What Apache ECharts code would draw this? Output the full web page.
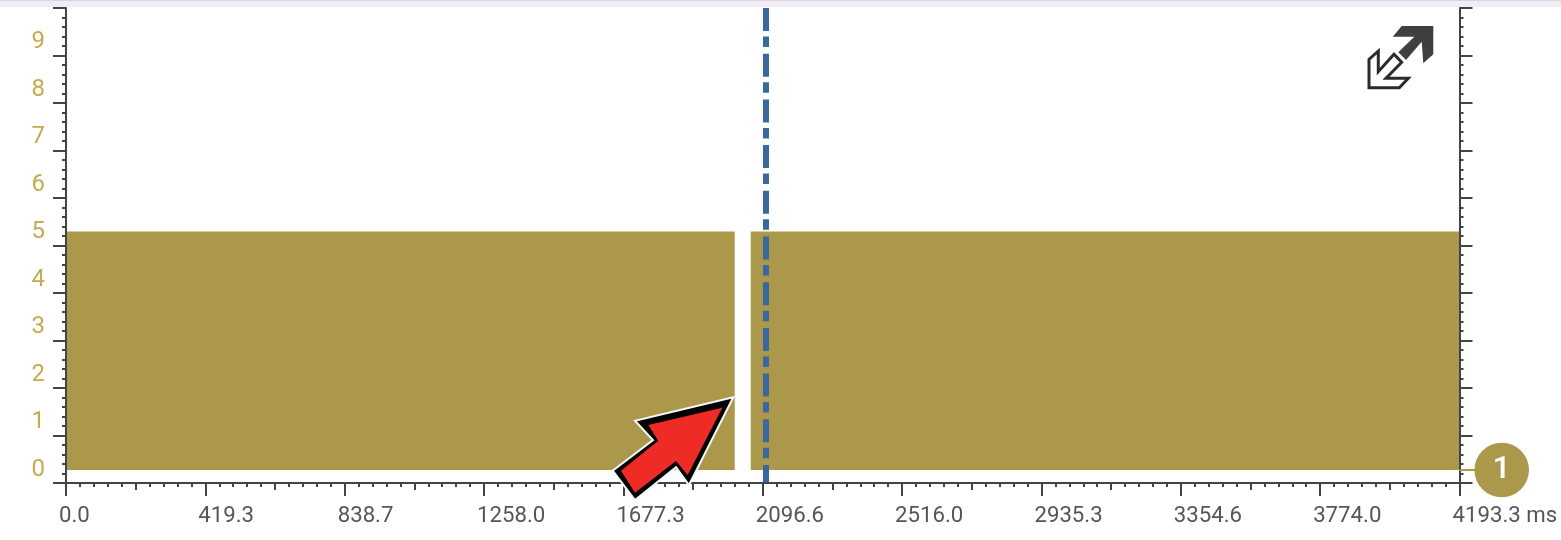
<!DOCTYPE html>
<html>
<head>
<meta charset="utf-8">
<style>html,body{margin:0;padding:0;background:#fff}#c{width:1561px;height:540px}</style>
<script src="https://cdn.jsdelivr.net/npm/echarts@6/dist/echarts.min.js"></script>
</head>
<body>
<div id="c"></div>
<script>
var xTickLabels = ['0.0','419.3','838.7','1258.0','1677.3','2096.6','2516.0','2935.3','3354.6','3774.0','4193.3 ms'];
var yTickValues = [0, 1, 2, 3, 4, 5, 6, 7, 8, 9];
var segmentStart = [0, 2060.6];
var segmentEnd = [2012.4, 4193.3];
var segmentLow = [0, 0];
var segmentHigh = [5.02, 5.02];
var cursorTime = [2106.4, 2106.4];
var cursorLevel = [9.726, -0.274];
var xMax = 4193.3, xStep = 419.33;
var yMin = -0.274, yMax = 9.726;
var gold = '#ac984b', labelGold = '#c4aa52', axisDark = '#444444', textGrey = '#565656';

var chart = echarts.init(document.getElementById('c'), null, {renderer: 'canvas'});
var bandData = segmentStart.map(function (s, i) { return [s, segmentEnd[i], segmentLow[i], segmentHigh[i]]; });
var cursorData = cursorTime.map(function (t, i) { return [t, cursorLevel[i]]; });

var tickAxis = function (pos) {
  return {
    type: 'value', position: pos, min: 0, max: 10, interval: 1, z: 5,
    axisLine: {show: true, onZero: false, lineStyle: {color: axisDark, width: 2}},
    axisTick: {show: true, length: 13, lineStyle: {color: axisDark, width: 2}},
    minorTick: {show: true, splitNumber: 5, length: 4, lineStyle: {color: axisDark, width: 2}},
    axisLabel: {show: false}, splitLine: {show: false}, minorSplitLine: {show: false}
  };
};

chart.setOption({
  animation: false,
  backgroundColor: '#ffffff',
  grid: {left: 66, right: 101.5, top: 8, bottom: 57, containLabel: false},
  xAxis: [{
    type: 'value', min: 0, max: xMax, interval: xStep, position: 'bottom', z: 5,
    axisLine: {show: true, onZero: false, lineStyle: {color: axisDark, width: 2}},
    axisTick: {show: true, length: 13, lineStyle: {color: axisDark, width: 2}},
    minorTick: {show: true, splitNumber: 10, length: 4, lineStyle: {color: axisDark, width: 2}},
    splitLine: {show: false}, minorSplitLine: {show: false},
    axisLabel: {
      show: true, margin: 22, align: 'left', color: textGrey, fontFamily: 'Roboto', fontSize: 22.2,
      padding: [0, 0, 0, -7], hideOverlap: false, showMinLabel: true, showMaxLabel: true,
      formatter: function (v) { return xTickLabels[Math.round(v / xStep)] || ''; }
    }
  }, {
    type: 'value', min: 0, max: xMax, interval: xStep / 2, position: 'bottom', z: 5,
    axisLine: {show: false, onZero: false},
    axisTick: {show: true, length: 7, lineStyle: {color: axisDark, width: 2}},
    axisLabel: {show: false}, splitLine: {show: false}
  }],
  yAxis: [{
    type: 'value', min: yMin, max: yMax, position: 'left',
    axisLine: {show: false, onZero: false}, axisTick: {show: false}, splitLine: {show: false},
    axisLabel: {
      show: true, margin: 21, align: 'right', color: labelGold, fontFamily: 'Roboto', fontSize: 24,
      padding: [0, 0, 6, 0], customValues: yTickValues,
      formatter: function (v) { return String(Math.round(v)); }
    }
  }, tickAxis('left'), tickAxis('right')],
  series: [{
    type: 'custom', xAxisIndex: 0, yAxisIndex: 0, data: bandData, clip: true, z: 2,
    encode: {x: [0, 1], y: [2, 3]},
    renderItem: function (params, api) {
      var a = api.coord([api.value(0), api.value(3)]);
      var b = api.coord([api.value(1), api.value(2)]);
      return {type: 'rect', shape: {x: a[0], y: a[1], width: b[0] - a[0], height: b[1] - a[1]},
              style: {fill: gold}};
    }
  }, {
    type: 'line', xAxisIndex: 0, yAxisIndex: 0, data: cursorData, symbol: 'none', z: 3, clip: false,
    lineStyle: {color: '#3a689d', width: 6, type: [23, 5.5, 10.5, 6.7], cap: 'butt'}
  }],
  graphic: {elements: [
    {type: 'rect', z: 50, shape: {x: 0, y: 0, width: 1561, height: 7}, style: {fill: '#f0ecf1'}},
    {type: 'rect', z: 51, shape: {x: 0, y: 0, width: 1561, height: 1}, style: {fill: '#d9d3dd'}},
    {type: 'polygon', z: 60, shape: {points: [[1401.7,26],[1433.3,26],[1433.3,54.3],[1423.3,63.3],[1421.7,41.7],[1406,60],[1398.3,52.3],[1414.3,36.7],[1392.7,36.7]]},
      style: {fill: '#3f3f3f'}},
    {type: 'polygon', z: 60, shape: {points: [[1369,87.7],[1369,59.3],[1378.3,51],[1378.3,71.7],[1394,54.3],[1401.7,62.3],[1386,78.3],[1408.3,78.3],[1399.3,87.7]]},
      style: {fill: '#ffffff', stroke: '#2b2b2b', lineWidth: 3, lineJoin: 'miter'}},
    {type: 'polygon', z: 71, shape: {points: [[733.3,397.3],[635,420.7],[653,440],[612.7,470.7],[635,500],[676,467.3],[689,485]]},
      style: {fill: '#000000', stroke: '#f4f6fa', lineWidth: 2, lineJoin: 'miter'}},
    {type: 'polygon', z: 72, shape: {points: [[722.3,407.7],[648.3,425],[658.3,440.7],[621,470.7],[635,492.7],[676,461],[687.7,475]]},
      style: {fill: '#ee2c25'}},
    {type: 'line', z: 40, shape: {x1: 1459.5, y1: 470, x2: 1476, y2: 470}, style: {stroke: gold, lineWidth: 2}},
    {type: 'circle', z: 41, shape: {cx: 1501.7, cy: 470, r: 27.3}, style: {fill: gold}},
    {type: 'text', z: 42, x: 1501.7, y: 470, style: {text: '1', fill: '#ffffff', font: '500 32px Roboto', align: 'center', verticalAlign: 'middle'}}
  ]}
});
</script>
</body>
</html>
